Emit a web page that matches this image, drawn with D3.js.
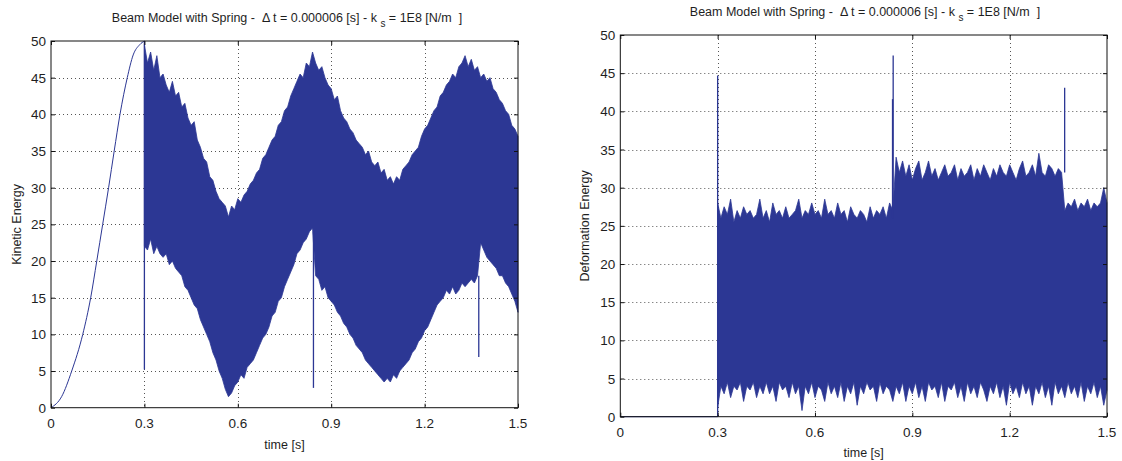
<!DOCTYPE html>
<html lang="en">
<head>
<meta charset="UTF-8">
<title>Beam Model with Spring</title>
<style>
    body { margin: 0; background: #fff; }
    text { font-family: "Liberation Sans", Arial, sans-serif; fill: #1e1e1e; }
    .title { font-size: 12.5px; white-space: pre; }
    .tick-label { font-size: 13.5px; }
    .axis-label { font-size: 12.5px; }
</style>
</head>
<body>
<svg id="chart" width="1122" height="461"></svg>
<script src="https://d3js.org/d3.v7.min.js"></script>
<script>
// ---- data ----
const xTicks = [0, 0.3, 0.6, 0.9, 1.2, 1.5];
const yTicks = [0, 5, 10, 15, 20, 25, 30, 35, 40, 45, 50];
const xTickLabels = ["0", "0.3", "0.6", "0.9", "1.2", "1.5"];

// band samples: t = 0.30 ... 1.50 every 0.01 s
const bandStart = 0.30;
const bandStep = 0.01;

// kinetic energy, run-up before contact
const keRiseT = [0, 0.034, 0.0665, 0.102, 0.1275, 0.147, 0.166, 0.185, 0.203, 0.2216, 0.245, 0.264, 0.285, 0.30];
const keRiseV = [0, 1.5, 5, 10, 15, 20, 25, 30, 35, 40, 45, 48.1, 49.5, 50];

// kinetic energy, upper / lower envelope of the oscillation band
const keHi = [
    49.5, 47, 48.5, 46, 48, 45, 45.5, 44, 43, 44.5,
    42.5, 43, 41, 41.5, 39.5, 38.5, 39, 36.5, 35.5, 34,
    33.5, 31.5, 31, 29.5, 28.5, 28, 27.5, 26, 27.5, 27,
    28.5, 28, 29, 29.5, 30.5, 31, 32, 32.5, 34, 34.5,
    35.5, 36.5, 37, 38.5, 39, 40.5, 41, 42.5, 43.5, 44.5,
    45.5, 45, 47, 46.5, 48.5, 47, 46, 46.5, 45, 44,
    43.5, 42, 42.5, 40.5, 39.5, 39, 38, 37.5, 36.5, 36,
    35.5, 34.5, 35, 33.5, 33, 33.5, 32, 32.5, 31, 31.5,
    30.5, 31.5, 31, 32.5, 33, 33.5, 34.5, 35, 35.5, 37,
    38, 38.5, 39.5, 40.5, 41, 42.5, 43, 44, 44.5, 45.5,
    45, 46.5, 47, 48, 46.5, 47.5, 46, 46.5, 45, 45.5,
    44.5, 45, 43.5, 43, 42, 41.5, 40.5, 40, 38.5, 38,
    37
];
const keLo = [
    22, 21.5, 23, 21, 22, 21, 20.5, 21, 19.5, 20,
    19, 18.5, 18, 16.5, 16, 15, 14, 13.5, 12, 11,
    10, 9, 7.5, 6.5, 5, 4, 2.5, 1.5, 2, 3,
    3.5, 4.5, 4, 5.5, 6, 6.5, 7.5, 8.5, 9.5, 10,
    11, 12.5, 13, 14.5, 15, 16.5, 17.5, 18.5, 19.5, 21,
    21.5, 22.5, 23, 24, 24.5, 18, 17.5, 16, 16.5, 15,
    14.5, 14, 13, 12.5, 11.5, 11, 10, 9.5, 8.5, 8,
    7.5, 6.5, 6, 5.5, 5, 4.5, 4, 3.5, 4, 3.5,
    4.5, 4, 5, 5.5, 6, 6.5, 7.5, 8, 9, 9.5,
    10.5, 11, 12, 13, 14, 14.5, 15, 16, 15.5, 16.5,
    15.5, 16, 17, 16.5, 17, 17.5, 17, 18, 22.5, 21.5,
    20.5, 20, 19.5, 19, 18, 18, 17, 16.5, 15.5, 14.5,
    13
];
// single-sample spikes: [t, from, to]
const keSpikes = [[0.300, 50, 5.2], [0.843, 24, 2.7], [1.374, 18, 6.9]];

// deformation energy: zero before contact
const deRiseT = [0, 0.30];
const deRiseV = [0, 0];
const deHi = [
    28, 26, 27.5, 26.5, 28.5, 25.5, 27, 26, 27.5, 26.5,
    27, 26, 26.5, 28.5, 26, 27, 25.5, 28, 26.5, 27,
    26, 27.5, 26, 26.5, 27, 28.5, 26, 27, 26.5, 28,
    26.5, 27, 26, 28.5, 26.5, 27, 26, 28, 26.5, 27,
    25.5, 27.5, 26.5, 26, 27, 26.5, 25.5, 27.5, 26, 27,
    26.5, 27.5, 26, 28, 27, 34, 32, 33.5, 31.5, 33,
    31, 32.5, 33.5, 31, 32, 33.5, 31.5, 32.5, 31, 32,
    33, 31.5, 32, 33, 31, 32.5, 31.5, 32, 33, 31,
    32.5, 31.5, 33, 32, 31, 32.5, 31.5, 33, 32, 31.5,
    33, 32, 31, 32.5, 33.5, 31.5, 32, 33, 31.5, 34.5,
    32, 31.5, 33, 32.5, 31.5, 32.5, 32, 27, 28, 27.5,
    28.5, 27, 28, 27.5, 28.5, 27, 28, 27.5, 28, 30,
    28
];
const deLo = [
    1.2, 4, 3, 4.5, 2.5, 4, 3.5, 4.5, 2, 4,
    3.5, 4.5, 2.5, 4, 3, 4.5, 3, 4, 2, 4.5,
    3.5, 4, 2.5, 4.5, 3, 4, 0.8, 4, 3, 4.5,
    2.5, 4, 3.5, 2, 4.5, 3, 4, 2.5, 4.5, 2,
    4, 3, 4.5, 1.5, 4, 3, 4.5, 3.5, 4, 2,
    4.5, 3, 4, 3.5, 2, 4, 3, 4.5, 2, 4,
    3, 4.5, 2.5, 4, 2, 4.5, 3.5, 4, 2.5, 4.5,
    2, 4, 3.5, 4.5, 2.5, 4, 2, 4.5, 3, 4,
    2.5, 4.5, 3.5, 2, 4, 3, 4.5, 2.5, 4, 1.5,
    4.5, 3, 4, 2.5, 4.5, 3, 4, 1.5, 4, 3,
    4.5, 2.5, 4, 1.5, 4.5, 3, 4, 2.5, 4.5, 3,
    4, 2.5, 4.5, 2, 4, 3, 4.5, 2.5, 4, 1.5,
    3.5
];
const deSpikes = [[0.300, 0, 44.7], [0.839, 26, 41.6], [0.841, 26, 47.3], [1.3695, 32, 43.1]];

// ---- drawing ----
const blue = "#2c3794";
const svg = d3.select("#chart");

function drawPanel(p) {
    const x = d3.scaleLinear().domain([0, 1.5]).range([p.left, p.right]);
    const y = d3.scaleLinear().domain([0, 50]).range([p.bottom, p.top]);
    const g = svg.append("g");

    // dotted grid
    g.selectAll("line.gx").data(xTicks.slice(1, -1)).enter().append("line")
        .attr("x1", d => Math.round(x(d)) + 0.5).attr("x2", d => Math.round(x(d)) + 0.5)
        .attr("y1", p.top).attr("y2", p.bottom)
        .attr("stroke", "#555").attr("stroke-width", 1).attr("stroke-dasharray", "1,3");
    g.selectAll("line.gy").data(yTicks.slice(1, -1)).enter().append("line")
        .attr("y1", d => Math.round(y(d)) + 0.5).attr("y2", d => Math.round(y(d)) + 0.5)
        .attr("x1", p.left).attr("x2", p.right)
        .attr("stroke", "#555").attr("stroke-width", 1).attr("stroke-dasharray", "1,3");

    // run-up line
    const rise = p.riseT.map((t, i) => [t, p.riseV[i]]);
    g.append("path").datum(rise)
        .attr("fill", "none").attr("stroke", blue).attr("stroke-width", 1)
        .attr("d", d3.line().x(d => x(d[0])).y(d => y(d[1])).curve(d3.curveMonotoneX));

    // oscillation band
    const band = p.hi.map((h, i) => ({ t: bandStart + i * bandStep, hi: h, lo: p.lo[i] }));
    g.append("path").datum(band)
        .attr("fill", blue).attr("stroke", blue).attr("stroke-width", 0.8)
        .attr("d", d3.area().x(d => x(d.t)).y0(d => y(d.lo)).y1(d => y(d.hi)));

    // spikes
    g.selectAll("line.spike").data(p.spikes).enter().append("line")
        .attr("x1", d => x(d[0])).attr("x2", d => x(d[0]))
        .attr("y1", d => y(d[1])).attr("y2", d => y(d[2]))
        .attr("stroke", blue).attr("stroke-width", 1.3);

    // box with inward ticks
    g.append("rect")
        .attr("x", p.left).attr("y", p.top)
        .attr("width", p.right - p.left).attr("height", p.bottom - p.top)
        .attr("fill", "none").attr("stroke", "#111").attr("stroke-width", 1);
    const axB = d3.axisBottom(x).tickValues(xTicks).tickSizeInner(-4).tickSizeOuter(0).tickFormat("");
    const axT = d3.axisTop(x).tickValues(xTicks).tickSizeInner(-4).tickSizeOuter(0).tickFormat("");
    const axL = d3.axisLeft(y).tickValues(yTicks).tickSizeInner(-4).tickSizeOuter(0).tickFormat("");
    const axR = d3.axisRight(y).tickValues(yTicks).tickSizeInner(-4).tickSizeOuter(0).tickFormat("");
    [[axB, `translate(0,${p.bottom})`], [axT, `translate(0,${p.top})`],
     [axL, `translate(${p.left},0)`], [axR, `translate(${p.right},0)`]].forEach(([ax, tr]) => {
        const a = g.append("g").attr("transform", tr).call(ax);
        a.select(".domain").remove();
        a.selectAll("line").attr("stroke", "#111");
    });

    // tick labels
    g.selectAll("text.xl").data(xTicks).enter().append("text")
        .attr("class", "tick-label").attr("text-anchor", "middle")
        .attr("x", d => x(d)).attr("y", p.xLabelY)
        .text((d, i) => xTickLabels[i]);
    g.selectAll("text.yl").data(yTicks).enter().append("text")
        .attr("class", "tick-label").attr("text-anchor", "end")
        .attr("x", p.left - 5).attr("y", d => y(d) + 5)
        .text(d => d);

    // axis titles
    g.append("text").attr("class", "axis-label").attr("text-anchor", "middle")
        .attr("x", (p.left + p.right) / 2).attr("y", p.xTitleY).text("time [s]");
    g.append("text").attr("class", "axis-label").attr("text-anchor", "middle")
        .attr("transform", `translate(${p.yTitleX},${(p.top + p.bottom) / 2}) rotate(-90)`)
        .text(p.yTitle);

    // plot title
    const tt = g.append("text").attr("class", "title").attr("text-anchor", "middle")
        .attr("x", p.titleX).attr("y", p.titleY);
    tt.append("tspan").text("Beam Model with Spring -  \u0394 t = 0.000006 [s] - k ");
    tt.append("tspan").attr("dy", 5).style("font-size", "10px").text("s");
    tt.append("tspan").attr("dy", -5).text(" = 1E8 [N/m  ]");
}

drawPanel({
    left: 51, right: 518, top: 41, bottom: 407.7,
    riseT: keRiseT, riseV: keRiseV, hi: keHi, lo: keLo, spikes: keSpikes,
    xLabelY: 428, xTitleY: 449, yTitleX: 21, yTitle: "Kinetic Energy",
    titleX: 287, titleY: 22
});
drawPanel({
    left: 620.3, right: 1107, top: 35, bottom: 416.7,
    riseT: deRiseT, riseV: deRiseV, hi: deHi, lo: deLo, spikes: deSpikes,
    xLabelY: 437, xTitleY: 457, yTitleX: 589, yTitle: "Deformation Energy",
    titleX: 865, titleY: 16
});
</script>
</body>
</html>
